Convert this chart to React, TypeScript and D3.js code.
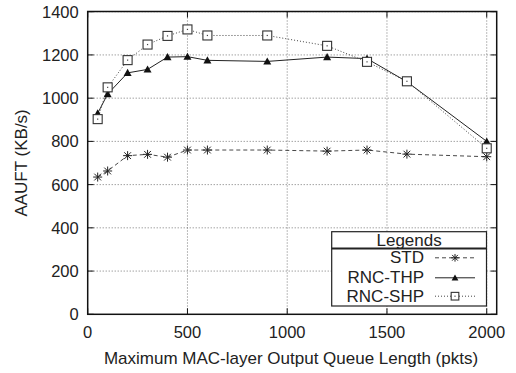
import { useEffect, useRef } from "react"
import * as d3 from "d3"

const queueLengths = [50, 100, 200, 300, 400, 500, 600, 900, 1200, 1400, 1600, 2000]
const stdValues = [635, 663, 734, 740, 727, 760, 760, 760, 755, 760, 741, 729]
const thpValues = [930, 1019, 1117, 1133, 1190, 1192, 1175, 1170, 1190, 1183, 1076, 800]
const shpValues = [903, 1050, 1176, 1248, 1288, 1318, 1290, 1290, 1242, 1168, 1078, 768]
const xTicks = [0, 500, 1000, 1500, 2000]
const yTicks = [0, 200, 400, 600, 800, 1000, 1200, 1400]
const seriesNames = ["STD", "RNC-THP", "RNC-SHP"]

const W = 516
const H = 373
const FONT = "'Liberation Sans', Arial, sans-serif"

type G = d3.Selection<SVGGElement, unknown, null, undefined>

export default function App() {
  const svgRef = useRef<SVGSVGElement>(null)

  useEffect(() => {
    if (!svgRef.current) return
    const svg = d3.select(svgRef.current)
    svg.selectAll("*").remove()

    const left = 87.7, right = 496.7, top = 11.5, bottom = 314.3
    const x = d3.scaleLinear().domain([0, 2050]).range([left, right])
    const y = d3.scaleLinear().domain([0, 1400]).range([bottom, top + 0.2])

    const g = svg.append("g")

    // grid
    yTicks.slice(1).forEach((t) => {
      g.append("line")
        .attr("x1", left).attr("x2", right)
        .attr("y1", y(t)).attr("y2", y(t))
        .attr("stroke", "#555").attr("stroke-width", 0.8)
        .attr("stroke-dasharray", "1,2")
    })
    xTicks.slice(1).forEach((t) => {
      g.append("line")
        .attr("x1", x(t)).attr("x2", x(t))
        .attr("y1", top).attr("y2", bottom)
        .attr("stroke", "#555").attr("stroke-width", 0.8)
        .attr("stroke-dasharray", "1,2")
    })

    // tick marks (inward, all four sides) + labels
    yTicks.forEach((t) => {
      g.append("line").attr("x1", left).attr("x2", left + 6)
        .attr("y1", y(t)).attr("y2", y(t)).attr("stroke", "#111").attr("stroke-width", 1)
      g.append("line").attr("x1", right - 6).attr("x2", right)
        .attr("y1", y(t)).attr("y2", y(t)).attr("stroke", "#111").attr("stroke-width", 1)
      g.append("text")
        .attr("x", left - 9).attr("y", y(t) + 6)
        .attr("text-anchor", "end")
        .attr("font-family", FONT).attr("font-size", 16.5).attr("fill", "#222")
        .text(t)
    })
    xTicks.forEach((t) => {
      g.append("line").attr("x1", x(t)).attr("x2", x(t))
        .attr("y1", bottom).attr("y2", bottom - 6).attr("stroke", "#111").attr("stroke-width", 1)
      g.append("line").attr("x1", x(t)).attr("x2", x(t))
        .attr("y1", top).attr("y2", top + 6).attr("stroke", "#111").attr("stroke-width", 1)
      g.append("text")
        .attr("x", x(t)).attr("y", 338)
        .attr("text-anchor", "middle")
        .attr("font-family", FONT).attr("font-size", 16.5).attr("fill", "#222")
        .text(t)
    })

    // frame
    g.append("rect")
      .attr("x", left).attr("y", top)
      .attr("width", right - left).attr("height", bottom - top)
      .attr("fill", "none").attr("stroke", "#111").attr("stroke-width", 1.5)

    const line = d3.line<[number, number]>().x((d) => x(d[0])).y((d) => y(d[1]))

    const drawStar = (sel: G, cx: number, cy: number, k = 1) => {
      const r = 4.5 * k
      const gg = sel.append("g").attr("stroke", "#222").attr("stroke-width", 1)
      gg.append("line").attr("x1", cx - r).attr("x2", cx + r).attr("y1", cy).attr("y2", cy)
      gg.append("line").attr("x1", cx).attr("x2", cx).attr("y1", cy - r).attr("y2", cy + r)
      gg.append("line").attr("x1", cx - r * 0.75).attr("x2", cx + r * 0.75).attr("y1", cy - r * 0.75).attr("y2", cy + r * 0.75)
      gg.append("line").attr("x1", cx - r * 0.75).attr("x2", cx + r * 0.75).attr("y1", cy + r * 0.75).attr("y2", cy - r * 0.75)
    }
    const drawTri = (sel: G, cx: number, cy: number, k = 1) => {
      const s = 4 * k
      sel.append("path")
        .attr("d", `M${cx},${cy - s} L${cx + s},${cy + s * 0.8} L${cx - s},${cy + s * 0.8} Z`)
        .attr("fill", "#111")
    }
    const drawSquare = (sel: G, cx: number, cy: number, k = 1) => {
      const s = 4.5 * k
      sel.append("rect")
        .attr("x", cx - s).attr("y", cy - s).attr("width", 2 * s).attr("height", 2 * s)
        .attr("fill", "#fff").attr("stroke", "#333").attr("stroke-width", 1.1)
      sel.append("rect").attr("x", cx - 0.6).attr("y", cy - 0.6).attr("width", 1.2).attr("height", 1.2).attr("fill", "#444")
    }

    const series = [
      { values: stdValues, dash: "4,3", width: 0.9, color: "#333", marker: drawStar },
      { values: thpValues, dash: null, width: 1, color: "#222", marker: drawTri },
      { values: shpValues, dash: "1,2", width: 1, color: "#444", marker: drawSquare },
    ]

    const plot = svg.append("g")
    series.forEach((s) => {
      const pts = queueLengths.map((q, i) => [q, s.values[i]] as [number, number])
      plot.append("path")
        .attr("d", line(pts) || "")
        .attr("fill", "none")
        .attr("stroke", s.color)
        .attr("stroke-width", s.width)
        .attr("stroke-dasharray", s.dash)
    })
    series.forEach((s) => {
      const mg = plot.append("g")
      queueLengths.forEach((q, i) => s.marker(mg, x(q), y(s.values[i])))
    })

    // legend
    const lx0 = 331.7, lx1 = 486.5, ly0 = 231.7, ly1 = 306
    const lg = svg.append("g")
    lg.append("rect")
      .attr("x", lx0).attr("y", ly0).attr("width", lx1 - lx0).attr("height", ly1 - ly0)
      .attr("fill", "#fff").attr("stroke", "#222").attr("stroke-width", 1.2)
    lg.append("line").attr("x1", lx0).attr("x2", lx1).attr("y1", 248.5).attr("y2", 248.5)
      .attr("stroke", "#222").attr("stroke-width", 1.8)
    lg.append("text")
      .attr("x", (lx0 + lx1) / 2).attr("y", 245.5)
      .attr("text-anchor", "middle")
      .attr("font-family", FONT).attr("font-size", 17).attr("fill", "#222")
      .text("Legends")
    const legendBase = [263.3, 283.3, 301.7]
    seriesNames.forEach((name, i) => {
      const base = legendBase[i]
      const cy = base - 5.5
      lg.append("text")
        .attr("x", 424).attr("y", base)
        .attr("text-anchor", "end")
        .attr("font-family", FONT).attr("font-size", 17).attr("fill", "#222")
        .text(name)
      const s = series[i]
      lg.append("line")
        .attr("x1", 435).attr("x2", 475).attr("y1", cy).attr("y2", cy)
        .attr("stroke", s.color).attr("stroke-width", s.width)
        .attr("stroke-dasharray", s.dash)
      s.marker(lg, 455, cy, 0.85)
    })

    // axis titles
    svg.append("text")
      .attr("x", 291).attr("y", 364)
      .attr("text-anchor", "middle")
      .attr("font-family", FONT).attr("font-size", 17).attr("fill", "#222")
      .text("Maximum MAC-layer Output Queue Length (pkts)")
    svg.append("text")
      .attr("transform", `translate(27, ${(top + bottom) / 2}) rotate(-90)`)
      .attr("text-anchor", "middle")
      .attr("font-family", FONT).attr("font-size", 17).attr("fill", "#222")
      .text("AAUFT (KB/s)")
  }, [])

  return (
    <div style={{ position: "fixed", left: 0, top: 0, width: W, height: H, background: "#fff" }}>
      <svg ref={svgRef} width={W} height={H} />
    </div>
  )
}
